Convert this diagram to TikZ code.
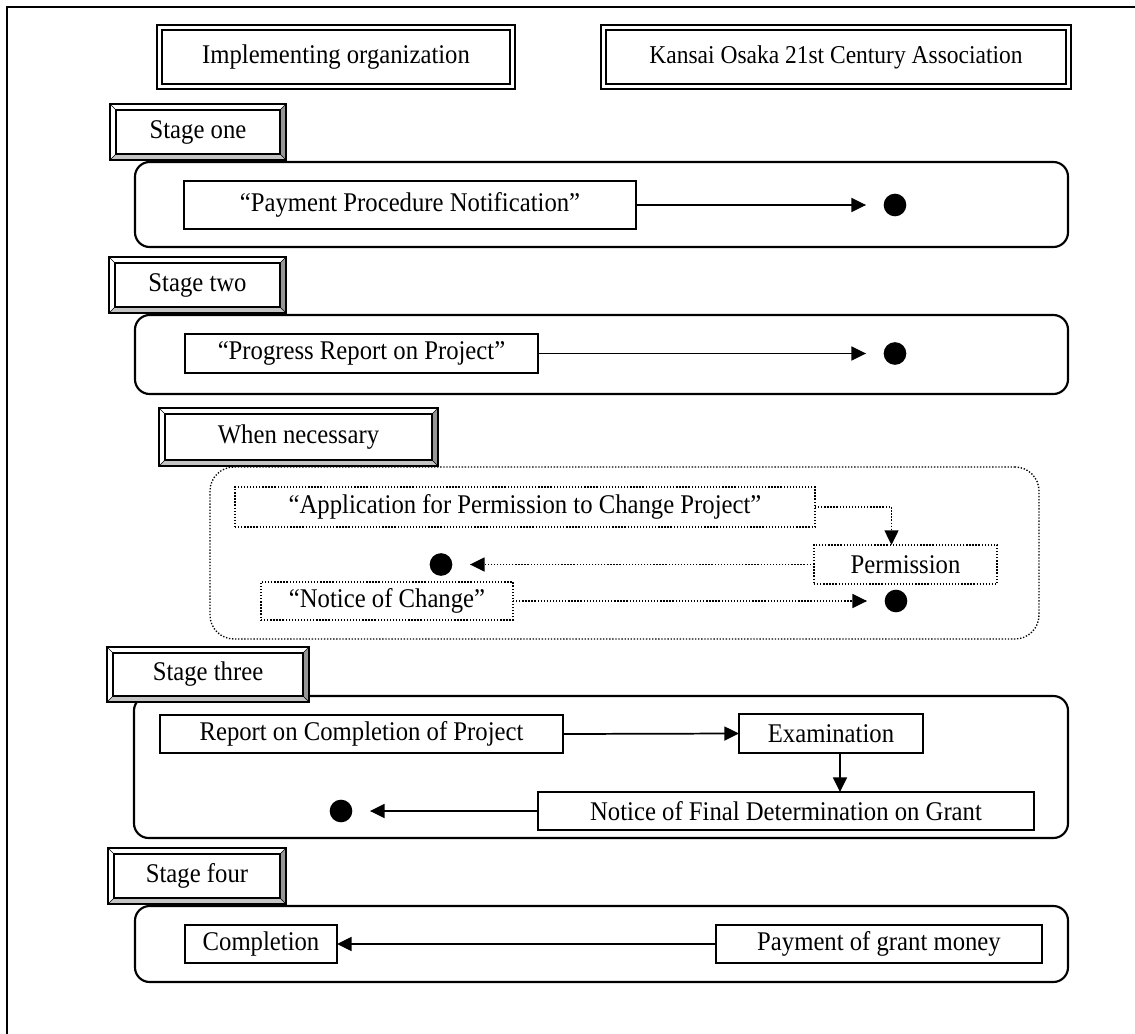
\documentclass[tikz,border=0pt]{standalone}
\usepackage{fontspec}
\setmainfont{Liberation Serif}[FakeStretch=0.915]
\usetikzlibrary{arrows.meta,calc}
\definecolor{bevbot}{HTML}{C4C4C4}
\definecolor{bevright}{HTML}{969696}
% generic box: [style]{name}{x1}{y1}{x2}{y2}{text}
\newcommand\bx[7][box]{%
  \node[#1, minimum width={(#5-#3)*0.75pt}, minimum height={(#6-#4)*0.75pt}]
    (#2) at ({(#3+#5)/2},{(#4+#6)/2}) {#7};}
\newcommand\stagelab[6]{%
  \fill[white] (#2,#3) rectangle (#4,#5);
  \fill[bevbot] (#2,#5) -- (#4,#5) -- (#4-6,#5-6) -- (#2+6,#5-6) -- cycle;
  \fill[bevright] (#4,#3) -- (#4,#5) -- (#4-6,#5-6) -- (#4-6,#3+6) -- cycle;
  \bx[lab]{#1}{#2}{#3}{#4}{#5}{#6}
  \draw[line width=0.8pt] (#2+6,#3+6) rectangle (#4-6,#5-6);
  \draw[line width=0.5pt] (#2,#3) -- (#2+6,#3+6) (#4,#3) -- (#4-6,#3+6)
     (#2,#5) -- (#2+6,#5-6) (#4,#5) -- (#4-6,#5-6);
}
\begin{document}
\begin{tikzpicture}[x=0.75pt,y=-0.75pt,
  txt/.style={font=\fontsize{20.25pt}{24pt}\selectfont},
  lab/.style={draw,line width=1.2pt,inner sep=0pt,outer sep=0pt,txt},
  box/.style={draw,line width=1.3pt,fill=white,inner sep=0pt,outer sep=0pt,txt},
  dbox/.style={draw,line width=1pt,dash pattern=on 1pt off 1.3pt,fill=white,inner sep=0pt,outer sep=0pt,txt},
  hbox/.style={draw,line width=1.8pt,fill=white,inner sep=0pt,outer sep=0pt,txt},
  cont/.style={draw,line width=1.6pt,rounded corners=11pt,inner sep=0pt,outer sep=0pt},
  dcont/.style={draw,line width=1pt,dash pattern=on 1pt off 1.3pt,rounded corners=18pt,inner sep=0pt,outer sep=0pt},
  arr/.style={line width=1.3pt,-{Triangle[length=11pt,width=10.5pt]}},
  darr/.style={line width=1pt,dash pattern=on 1pt off 1.3pt,-{Triangle[length=11pt,width=10.5pt]}},
  dot/.style={circle,fill=black,inner sep=0pt,minimum size=17pt},
]
\useasboundingbox (0,0) rectangle (1135,1034);
% outer frame
\draw[line width=1.6pt] (7,1034) -- (7,7) -- (1135,7);

% headers
\bx[hbox]{hImpl}{157}{25}{515}{89}{Implementing organization}
\draw[line width=1pt] ([shift={(5,5)}]hImpl.north west) rectangle ([shift={(-5,-5)}]hImpl.south east);
\bx[hbox,font=\fontsize{19.25pt}{23pt}\selectfont]{hKan}{601}{25}{1071}{89}{Kansai Osaka 21st Century Association}
\draw[line width=1pt] ([shift={(5,5)}]hKan.north west) rectangle ([shift={(-5,-5)}]hKan.south east);

% ---- Stage one
\bx[cont]{c1}{135}{162}{1068}{247}{}
\stagelab{s1}{110}{104}{286}{160}{Stage one}
\bx{b1}{184}{181}{636}{229}{“Payment Procedure Notification”}
\node[dot] (d1) at (895,205) {};
\draw[arr, shorten >=13pt] (b1.east) -- (d1.west);

% ---- Stage two
\bx[cont]{c2}{135}{315}{1068}{394}{}
\stagelab{s2}{109}{257}{286}{313}{Stage two}
\bx{b2}{185}{334}{538}{373}{“Progress Report on Project”}
\node[dot] (d2) at (895,353.5) {};
\draw[arr, shorten >=13pt] (b2.east) -- (d2.west);

% ---- When necessary
\bx[dcont]{cw}{210}{467}{1039}{639}{}
\stagelab{wn}{159}{408}{438}{466}{When necessary}
\bx[dbox]{ba}{235}{487}{815}{527}{“Application for Permission to Change Project”}
\bx[dbox]{bp}{814}{545}{997}{584}{Permission}
\bx[dbox]{bn}{261}{582}{513}{620}{“Notice of Change”}
\node[dot] (dw1) at (441,564.5) {};
\node[dot] (dw2) at (896,601) {};
\draw[darr] (ba.east) -| ($(bp.north)+(-14,0)$);
\draw[darr, shorten >=13pt] (bp.west) -- (dw1.east);
\draw[darr, shorten >=13pt] (bn.east) -- (dw2.west);

% ---- Stage three
\bx[cont]{c3}{134}{696}{1068}{838}{}
\stagelab{s3}{107}{647}{309}{702}{Stage three}
\bx{r3}{160}{715}{563}{753}{Report on Completion of Project}
\bx{e3}{739}{714}{923}{753}{Examination}
\bx{n3}{538}{792}{1034}{830}{Notice of Final Determination on Grant}
\node[dot] (d3) at (341,811) {};
\draw[arr] (r3.east) -- (e3.west);
\draw[arr] ([xshift=6.75pt]e3.south) -- ([xshift=6.75pt]e3.south |- n3.north);
\draw[arr, shorten >=13pt] (n3.west) -- (d3.east);

% ---- Stage four
\bx[cont]{c4}{135}{906}{1068}{982}{}
\stagelab{s4}{108}{848}{286}{904}{Stage four}
\bx{cm}{185}{925}{337}{963}{Completion}
\bx{pg}{716}{925}{1042}{963}{Payment of grant money}
\draw[arr] (pg.west) -- (cm.east);
\end{tikzpicture}
\end{document}
